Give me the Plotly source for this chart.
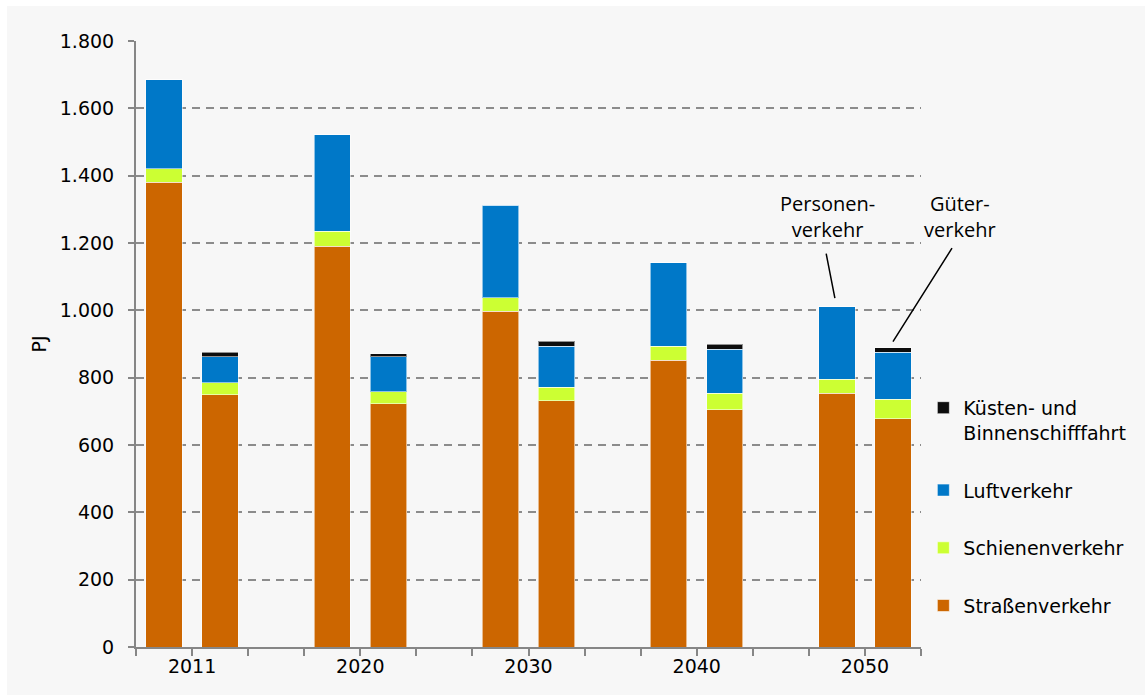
import plotly.graph_objects as go

years = ["2011", "2020", "2030", "2040", "2050"]
# Personenverkehr (passenger) values in PJ
road_p = [1380, 1190, 997, 852, 753]
rail_p = [40, 45, 40, 42, 42]
air_p = [265, 287, 275, 247, 216]
ship_p = [0, 0, 0, 0, 0]
# Güterverkehr (freight) values in PJ
road_g = [750, 722, 731, 705, 678]
rail_g = [35, 36, 41, 49, 58]
air_g = [77, 104, 122, 131, 140]
ship_g = [14, 9, 14, 14, 13]

series = [
    ("Straßenverkehr", road_p, road_g, "#CC6600"),
    ("Schienenverkehr", rail_p, rail_g, "#CCFF33"),
    ("Luftverkehr", air_p, air_g, "#0078C8"),
    ("Küsten- und<br>Binnenschifffahrt", ship_p, ship_g, "#0D0D0D"),
]

# slot positions: each year has P, G, blank
xpos = []
for i in range(len(years)):
    xpos += [3 * i, 3 * i + 1]

fig = go.Figure()
for k, (name, pv, gv, col) in enumerate(series):
    yv = []
    for a, b in zip(pv, gv):
        yv += [a, b]
    fig.add_trace(go.Bar(
        x=xpos, y=yv, name=name, legendgroup=name,
        legendrank=len(series) - k,
        marker=dict(color=col, line=dict(color="rgba(255,255,255,0.55)", width=1)),
        width=0.65,
    ))

n_slots = 3 * len(years) - 1
tickvals = [k - 0.5 for k in range(n_slots + 1)]
ticktext = []
for v in tickvals:
    ticktext.append("")
for i, yr in enumerate(years):
    ticktext[3 * i + 1] = yr

grey = "#868686"
fs = 19
fig.update_layout(
    width=1145, height=695,
    barmode="stack",
    separators=",.",
    paper_bgcolor="white",
    plot_bgcolor="#F7F7F7",
    margin=dict(l=136, r=224, t=41, b=48),
    font=dict(family="DejaVu Sans", size=fs, color="black"),
    showlegend=True,
    legend=dict(
        x=1.003, y=0.426, xanchor="left", yanchor="top",
        traceorder="grouped", tracegroupgap=30,
        bgcolor="rgba(0,0,0,0)", font=dict(size=fs), valign="top",
        itemwidth=30,
    ),
    xaxis=dict(
        range=[-0.5, n_slots - 0.5],
        tickmode="array", tickvals=tickvals, ticktext=ticktext,
        showline=True, linecolor=grey, linewidth=2,
        ticks="outside", ticklen=7, tickcolor=grey, tickwidth=1.5,
        showgrid=False, zeroline=False, ticklabelstandoff=-6,
        tickfont=dict(size=fs),
    ),
    yaxis=dict(
        range=[0, 1800], dtick=200, tickformat=",",
        showline=True, linecolor=grey, linewidth=2,
        ticks="outside", ticklen=6, tickcolor=grey, tickwidth=1.5,
        showgrid=True, gridcolor="#8C8C8C", gridwidth=1.5, griddash="8px,6px",
        zeroline=False, ticklabelstandoff=10,
        title=dict(text="PJ", standoff=8, font=dict(size=fs)),
        tickfont=dict(size=fs),
    ),
    shapes=[dict(
        type="rect", xref="paper", yref="paper",
        x0=(7 - 136) / 785, x1=(1145 - 136) / 785,
        y0=(647 - 700) / 606, y1=(647 - 6) / 606,
        fillcolor="#F7F7F7", line=dict(width=0), layer="below",
    )],
)

# annotation labels and pointer lines
tot_p50 = road_p[-1] + rail_p[-1] + air_p[-1] + ship_p[-1]
tot_g50 = road_g[-1] + rail_g[-1] + air_g[-1] + ship_g[-1]
ann_font = dict(family="Open Sans", size=20, color="black")
fig.add_annotation(text="Personen-<br>verkehr", xref="paper", yref="paper",
                   x=(827 - 136) / 785, y=(647 - 216) / 606, showarrow=False,
                   xanchor="center", yanchor="middle",
                   font=ann_font, align="center")
fig.add_annotation(text="Güter-<br>verkehr", xref="paper", yref="paper",
                   x=(960 - 136) / 785, y=(647 - 216) / 606, showarrow=False,
                   xanchor="center", yanchor="middle",
                   font=ann_font, align="center")
fig.add_annotation(text="", x=xpos[-2], y=tot_p50 + 25, xref="x", yref="y",
                   showarrow=True, arrowhead=0, arrowwidth=1.5, arrowcolor="black",
                   ax=-9, ay=-46, xshift=-2)
fig.add_annotation(text="", x=xpos[-1], y=tot_g50 + 18, xref="x", yref="y",
                   showarrow=True, arrowhead=0, arrowwidth=1.5, arrowcolor="black",
                   ax=60, ay=-95)

fig.write_html("out.html")
